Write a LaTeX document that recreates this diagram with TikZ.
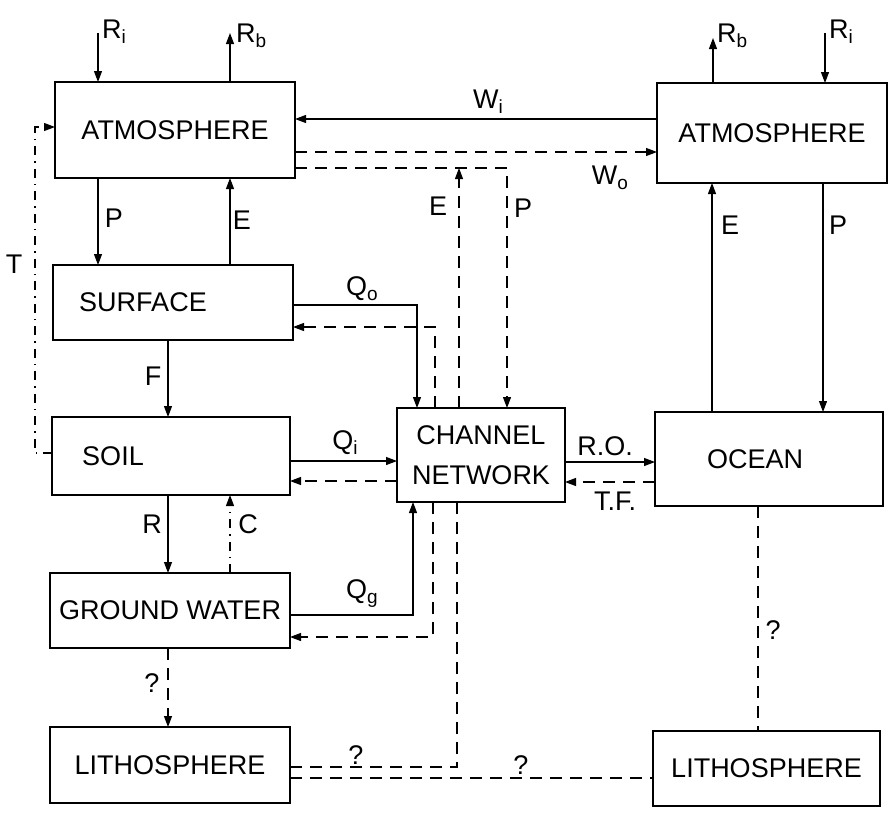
\documentclass[tikz,border=0pt]{standalone}
\usepackage{fontspec}
\setmainfont{Liberation Sans}
\usetikzlibrary{arrows.meta}
\newcommand\sbs[1]{\raisebox{-0.35ex}{\fontsize{19}{19}\selectfont #1}}
\begin{document}
\begin{tikzpicture}[x=1pt,y=-1pt,
  font=\fontsize{27}{31}\selectfont,
  box/.style={draw,line width=1.6pt,rectangle,inner sep=0pt,outer sep=0pt,align=center},
  lab/.style={inner sep=1pt},
  arr/.style={line width=1.1pt,-{Triangle[length=11pt,width=8pt]}},
  darr/.style={line width=1.1pt,dash pattern=on 12pt off 8pt,-{Triangle[length=11pt,width=8pt]}},
  ddarr/.style={line width=1.1pt,dash pattern=on 9pt off 6pt on 1.5pt off 6pt,-{Triangle[length=11pt,width=8pt]}},
  dline/.style={line width=1.1pt,dash pattern=on 12pt off 8pt}]
\useasboundingbox (0,0) rectangle (888,812);
\fill[white] (0,0) rectangle (888,812);

% boxes
\node[box,minimum width=240,minimum height=96] (atmL) at (175,130) {ATMOSPHERE};
\node[box,minimum width=240,minimum height=75] (surf) at (173,302.5) {SURFACE\hspace*{60pt}};
\node[box,minimum width=238,minimum height=78] (soil) at (171,456) {SOIL\hspace*{116pt}};
\node[box,minimum width=240,minimum height=75] (gw) at (170,610.5) {GROUND WATER};
\node[box,minimum width=240,minimum height=76] (lithL) at (170,765) {LITHOSPHERE};
\node[box,minimum width=168,minimum height=94] (chan) at (481,455) {CHANNEL\\[9pt]NETWORK};
\node[box,minimum width=228,minimum height=94] (ocean) at (769,459) {OCEAN\hspace*{28pt}};
\node[box,minimum width=230,minimum height=100] (atmR) at (772,133) {ATMOSPHERE};
\node[box,minimum width=227,minimum height=75] (lithR) at (766.5,768.5) {LITHOSPHERE};

% helper coordinates
\coordinate (riL) at (98,33);
\coordinate (rbL) at (230,33);
\coordinate (riR) at (825,33);
\coordinate (rbR) at (713,38);
\coordinate (wiy) at (0,119);
\coordinate (woy) at (0,152);
\coordinate (py) at (0,168);
\coordinate (pxc) at (507,0);
\coordinate (exc) at (459,0);
\coordinate (erx) at (712,0);
\coordinate (prx) at (823,0);
\coordinate (qoy) at (0,305);
\coordinate (qox) at (417,0);
\coordinate (dsx) at (435,0);
\coordinate (dsy) at (0,327);
\coordinate (qiy) at (0,461);
\coordinate (sdy) at (0,481);
\coordinate (fx) at (168,0);
\coordinate (cx) at (230,0);
\coordinate (ty) at (0,453);
\coordinate (tx) at (35,0);
\coordinate (ay) at (0,127);
\coordinate (qgy) at (0,615);
\coordinate (qgx) at (413,0);
\coordinate (dgx) at (433,0);
\coordinate (dgy) at (0,637);
\coordinate (dlx) at (457,0);
\coordinate (l1y) at (0,767);
\coordinate (l2y) at (0,778);
\coordinate (olx) at (758,0);
\coordinate (roy) at (0,462);
\coordinate (tfy) at (0,482);

% connectors
\draw[arr] (riL) -- (riL |- atmL.north);
\draw[arr] (rbL |- atmL.north) -- (rbL);
\draw[arr] (atmL.south -| riL) -- (surf.north -| riL);
\draw[arr] (surf.north -| rbL) -- (atmL.south -| rbL);
\draw[arr] (atmR.west |- wiy) -- (atmL.east |- wiy);
\draw[darr] (atmL.east |- woy) -- (atmR.west |- woy);
\draw[darr] (atmL.east |- py) -| (pxc |- chan.north);
\draw[darr] (chan.north -| exc) -- (exc |- py);
\draw[arr] (ocean.north -| erx) -- (atmR.south -| erx);
\draw[arr] (atmR.south -| prx) -- (ocean.north -| prx);
\draw[arr] (riR) -- (riR |- atmR.north);
\draw[arr] (atmR.north -| rbR) -- (rbR);
\draw[arr] (surf.east |- qoy) -| (qox |- chan.north);
\draw[darr] (chan.north -| dsx) |- (surf.east |- dsy);
\draw[arr] (soil.east |- qiy) -- (chan.west |- qiy);
\draw[darr] (chan.west |- sdy) -- (soil.east |- sdy);
\draw[arr] (surf.south -| fx) -- (soil.north -| fx);
\draw[arr] (soil.south -| fx) -- (gw.north -| fx);
\draw[ddarr] (gw.north -| cx) -- (soil.south -| cx);
\draw[ddarr] (soil.west |- ty) -| (tx |- ay) -- (atmL.west |- ay);
\draw[arr] (gw.east |- qgy) -| (qgx |- chan.south);
\draw[darr] (chan.south -| dgx) |- (gw.east |- dgy);
\draw[dline] (chan.south -| dlx) |- (lithL.east |- l1y);
\draw[dline] (lithL.east |- l2y) -- (lithR.west |- l2y);
\draw[darr] (gw.south -| fx) -- (lithL.north -| fx);
\draw[dline] (ocean.south -| olx) -- (lithR.north -| olx);
\draw[arr] (chan.east |- roy) -- (ocean.west |- roy);
\draw[darr] (ocean.west |- tfy) -- (chan.east |- tfy);

% labels
\node[lab,anchor=west] (lRiL) at (101,32) {R\sbs{i}};
\node[lab,anchor=west] (lRbL) at (235,36) {R\sbs{b}};
\node[lab] (lPL) at (114,218) {P};
\node[lab] (lEL) at (242,220) {E};
\node[lab] (lT) at (14,264) {T};
\node[lab] (lWi) at (488,102) {W\sbs{i}};
\node[lab] (lWo) at (610,178) {W\sbs{o}};
\node[lab] (lEd) at (438,206) {E};
\node[lab] (lPd) at (523,208) {P};
\node[lab] (lER) at (730,225) {E};
\node[lab] (lPR) at (838,225) {P};
\node[lab,anchor=west] (lRiR) at (828,32) {R\sbs{i}};
\node[lab,anchor=west] (lRbR) at (716,36) {R\sbs{b}};
\node[lab] (lQo) at (362,289) {Q\sbs{o}};
\node[lab] (lF) at (153,376) {F};
\node[lab] (lQi) at (345,443) {Q\sbs{i}};
\node[lab] (lR) at (152,524) {R};
\node[lab] (lC) at (248,524) {C};
\node[lab] (lQg) at (362,594) {Q\sbs{g}};
\node[lab] (lq1) at (152,683) {?};
\node[lab] (lq2) at (356,755) {?};
\node[lab] (lq3) at (521,765) {?};
\node[lab] (lq4) at (773,630) {?};
\node[lab] (lRO) at (605,446) {R.O.};
\node[lab] (lTF) at (615,501) {T.F.};
\end{tikzpicture}
\end{document}
